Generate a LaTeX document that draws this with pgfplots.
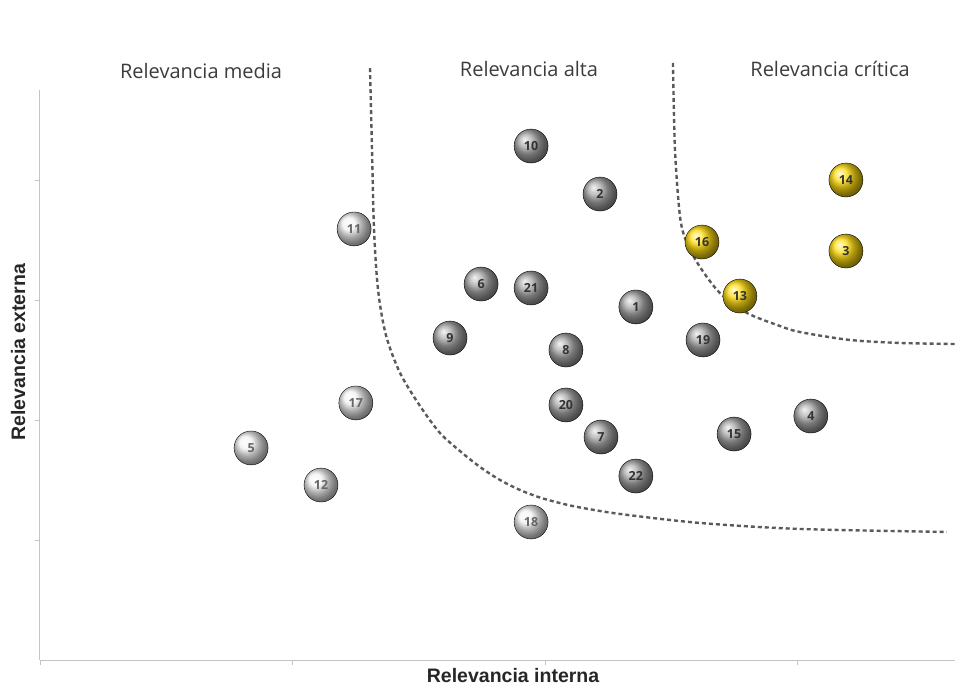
\documentclass[border=0pt]{standalone}
\usepackage{pgfplots}
\pgfplotsset{compat=1.18}
\usepackage{fontspec}
\setmainfont{Open Sans}
\newfontfamily\labelfont{Liberation Sans}
\definecolor{hdr}{HTML}{3C3C3C}
\definecolor{axgray}{HTML}{C4C4C4}
\definecolor{dashgray}{HTML}{5A5A5A}
\definecolor{gold}{HTML}{FFDD10}
\definecolor{ballgray}{HTML}{AAAAAA}
\definecolor{balllight}{HTML}{F2F2F2}
\definecolor{numtxt}{HTML}{333333}

\begin{document}
\begin{tikzpicture}
\path[use as bounding box] (-40pt,-28pt) rectangle (920pt,660pt);
\begin{axis}[
  at={(0pt,0pt)}, anchor=south west,
  scale only axis, width=915pt, height=570pt,
  xmin=0, xmax=3.624, ymin=0, ymax=4.75,
  axis lines=left,
  axis line style={axgray, line width=1pt, -},
  xtick={0,1,2,3}, ytick={1,2,3,4},
  xticklabels={}, yticklabels={},
  tick style={axgray, line width=0.8pt},
  tick align=outside, major tick length=5pt,
  clip=false,
  xlabel={\labelfont\bfseries\fontsize{19.5}{19.5}\selectfont Relevancia interna},
  xlabel style={at={(axis description cs:0.517,-0.028)}, anchor=center, text=black!85},
  ylabel={\labelfont\bfseries\fontsize{19.5}{19.5}\selectfont Relevancia externa},
  ylabel style={at={(axis description cs:-0.024,0.54)}, anchor=center, rotate=0, text=black!85},
  every node near coord/.append style={font=\bfseries\fontsize{12.5}{12.5}\selectfont, text=numtxt},
]
% grey balls (alta)
\addplot[only marks, mark=ball, mark size=17pt, ball color=ballgray,
  point meta=explicit symbolic, nodes near coords, nodes near coords align=center]
  coordinates {
  (1.945,4.283) [10]
  (2.218,3.883) [2]
  (1.747,3.133) [6]
  (1.945,3.100) [21]
  (2.360,2.942) [1]
  (1.624,2.683) [9]
  (2.083,2.583) [8]
  (2.626,2.667) [19]
  (2.083,2.125) [20]
  (2.222,1.858) [7]
  (2.749,1.883) [15]
  (3.053,2.033) [4]
  (2.360,1.533) [22]
  };
% light balls (media)
\addplot[only marks, mark=ball, mark size=17pt, ball color=balllight,
  point meta=explicit symbolic, nodes near coords, nodes near coords align=center,
  every node near coord/.append style={text=black!60}]
  coordinates {
  (1.244,3.592) [11]
  (1.251,2.142) [17]
  (0.836,1.767) [5]
  (1.113,1.458) [12]
  (1.945,1.150) [18]
  };
% gold balls (critica)
\addplot[only marks, mark=ball, mark size=17pt, ball color=gold,
  point meta=explicit symbolic, nodes near coords, nodes near coords align=center]
  coordinates {
  (2.622,3.483) [16]
  (2.772,3.033) [13]
  (3.192,4.000) [14]
  (3.192,3.408) [3]
  };
% boundaries
\addplot[dashgray, line width=2.4pt, dash pattern=on 4pt off 3pt, smooth, no marks]
  coordinates {
  (1.307,4.933) (1.315,4.250) (1.323,3.583) (1.339,3.083) (1.370,2.708)
  (1.426,2.392) (1.505,2.117) (1.584,1.892) (1.663,1.742) (1.743,1.608)
  (1.822,1.500) (1.901,1.417) (1.980,1.354) (2.059,1.308) (2.139,1.271)
  (2.297,1.217) (2.614,1.142) (3.010,1.092) (3.592,1.067)
  };
\addplot[dashgray, line width=2.4pt, dash pattern=on 4pt off 3pt, smooth, no marks]
  coordinates {
  (2.507,4.975) (2.515,4.25) (2.535,3.692) (2.562,3.475) (2.614,3.275)
  (2.693,3.058) (2.800,2.892) (2.931,2.783) (3.010,2.733) (3.208,2.667)
  (3.406,2.642) (3.632,2.633)
  };
\node[text=hdr, font=\fontsize{20}{20}\selectfont] at (axis cs:0.638,4.908) {Relevancia media};
\node[text=hdr, font=\fontsize{20}{20}\selectfont] at (axis cs:1.937,4.925) {Relevancia alta};
\node[text=hdr, font=\fontsize{20}{20}\selectfont] at (axis cs:3.129,4.925) {Relevancia crítica};
\end{axis}
\end{tikzpicture}
\end{document}
